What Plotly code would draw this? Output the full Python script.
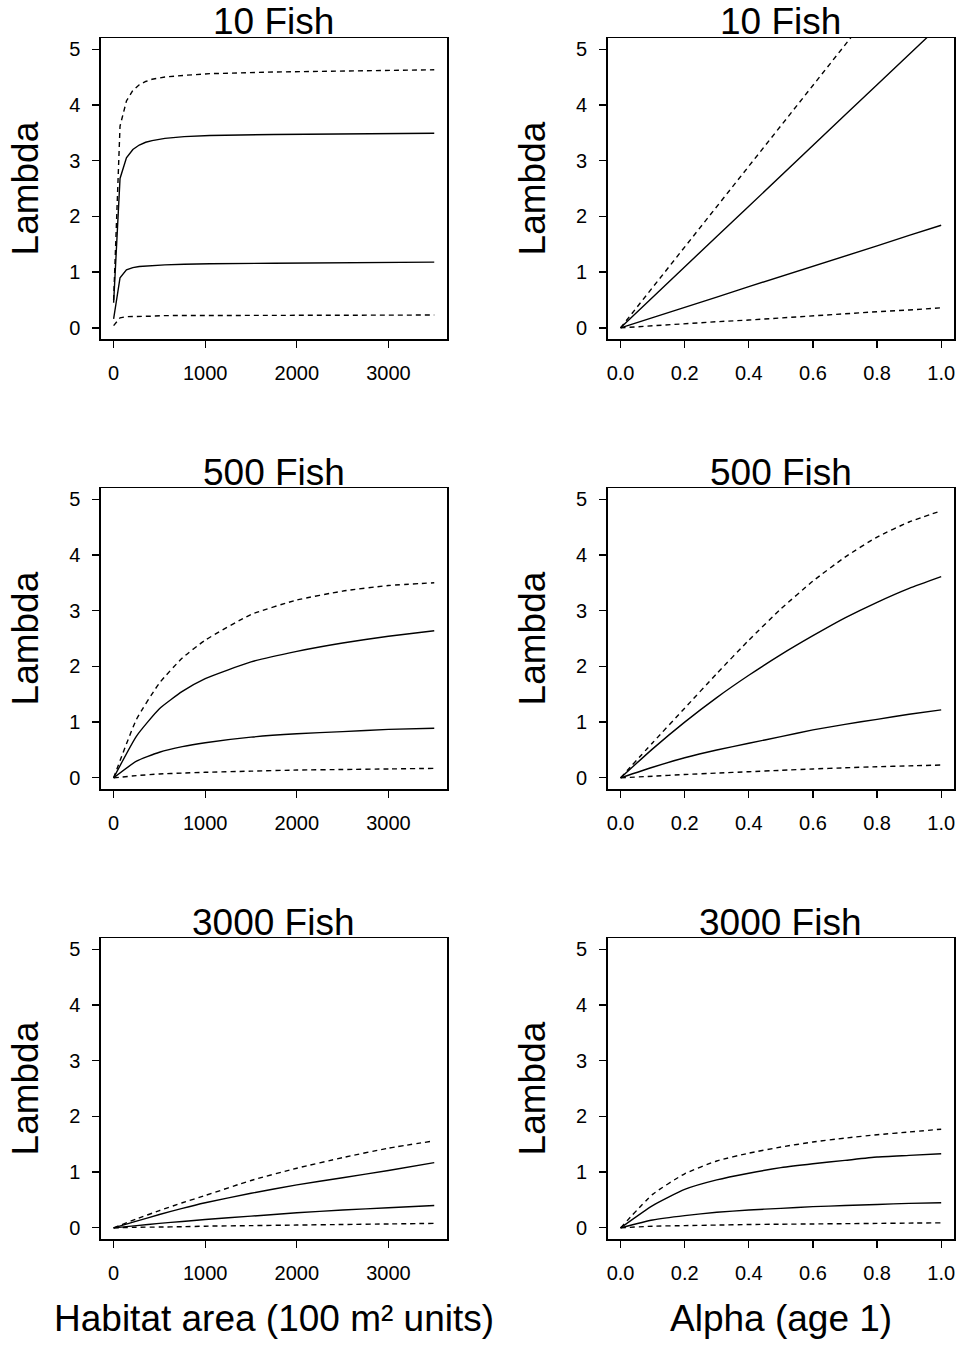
import plotly.graph_objects as go

W, H = 962, 1348

# ---------------- data ----------------
fish_titles = ["10 Fish", "500 Fish", "3000 Fish"]

habitat_x10 = [0, 70, 140, 210, 280, 350, 420, 560, 770, 1050, 1750, 2450, 3500]
hab10_upper_dash = [0.5, 3.62, 4.07, 4.26, 4.36, 4.42, 4.46, 4.50, 4.53, 4.56, 4.59, 4.61, 4.63]
hab10_upper_solid = [0.45, 2.68, 3.05, 3.20, 3.28, 3.33, 3.36, 3.40, 3.43, 3.45, 3.47, 3.48, 3.49]
hab10_lower_solid = [0.16, 0.90, 1.04, 1.08, 1.10, 1.11, 1.12, 1.13, 1.14, 1.15, 1.16, 1.17, 1.18]
hab10_lower_dash = [0.04, 0.18, 0.20, 0.20, 0.21, 0.21, 0.21, 0.22, 0.22, 0.22, 0.22, 0.23, 0.23]

habitat_x = [0, 250, 500, 750, 1000, 1500, 2000, 2500, 3000, 3500]
hab500_upper_dash = [0, 1.05, 1.70, 2.15, 2.47, 2.93, 3.19, 3.35, 3.45, 3.50]
hab500_upper_solid = [0, 0.75, 1.24, 1.55, 1.78, 2.08, 2.27, 2.42, 2.54, 2.64]
hab500_lower_solid = [0, 0.30, 0.46, 0.56, 0.63, 0.73, 0.79, 0.83, 0.87, 0.89]
hab500_lower_dash = [0, 0.04, 0.07, 0.085, 0.10, 0.12, 0.14, 0.15, 0.16, 0.17]

hab3000_upper_dash = [0, 0.16, 0.31, 0.45, 0.58, 0.85, 1.07, 1.26, 1.43, 1.56]
hab3000_upper_solid = [0, 0.12, 0.24, 0.35, 0.45, 0.62, 0.77, 0.90, 1.03, 1.17]
hab3000_lower_solid = [0, 0.04, 0.08, 0.115, 0.15, 0.21, 0.27, 0.32, 0.36, 0.40]
hab3000_lower_dash = [0, 0.01, 0.015, 0.02, 0.03, 0.04, 0.05, 0.06, 0.07, 0.08]

alpha_x = [0, 0.1, 0.2, 0.3, 0.4, 0.5, 0.6, 0.7, 0.8, 0.9, 1.0]
alp10_upper_dash = [0, 0.725, 1.45, 2.18, 2.90, 3.63, 4.35, 5.08, 5.80, 6.53, 7.25]
alp10_upper_solid = [0, 0.55, 1.09, 1.64, 2.18, 2.73, 3.27, 3.82, 4.36, 4.91, 5.45]
alp10_lower_solid = [0, 0.18, 0.37, 0.55, 0.74, 0.92, 1.10, 1.29, 1.47, 1.66, 1.84]
alp10_lower_dash = [0, 0.04, 0.07, 0.11, 0.14, 0.18, 0.22, 0.25, 0.29, 0.32, 0.36]

alp500_upper_dash = [0, 0.63, 1.25, 1.87, 2.47, 3.03, 3.53, 3.96, 4.32, 4.59, 4.79]
alp500_upper_solid = [0, 0.52, 1.00, 1.44, 1.84, 2.21, 2.55, 2.87, 3.15, 3.40, 3.61]
alp500_lower_solid = [0, 0.19, 0.36, 0.50, 0.62, 0.74, 0.86, 0.96, 1.05, 1.14, 1.22]
alp500_lower_dash = [0, 0.03, 0.06, 0.085, 0.11, 0.135, 0.16, 0.18, 0.20, 0.215, 0.23]

alp3000_upper_dash = [0, 0.60, 0.97, 1.20, 1.34, 1.45, 1.54, 1.61, 1.67, 1.72, 1.77]
alp3000_upper_solid = [0, 0.40, 0.69, 0.86, 0.98, 1.08, 1.15, 1.21, 1.27, 1.30, 1.33]
alp3000_lower_solid = [0, 0.14, 0.22, 0.28, 0.32, 0.35, 0.38, 0.40, 0.42, 0.44, 0.45]
alp3000_lower_dash = [0, 0.03, 0.04, 0.05, 0.06, 0.065, 0.07, 0.075, 0.08, 0.085, 0.09]

habitat_ticks = [0, 1000, 2000, 3000]
alpha_ticks = [0, 0.2, 0.4, 0.6, 0.8, 1.0]
alpha_ticklabels = ["0.0", "0.2", "0.4", "0.6", "0.8", "1.0"]
lambda_ticks = [0, 1, 2, 3, 4, 5]

x_title_left = "Habitat area (100 m² units)"
x_title_right = "Alpha (age 1)"
y_title = "Lambda"

# ---------------- layout geometry (pixels) ----------------
col_px = [(100, 447), (608, 955)]
row_px = [(38, 339), (488, 789), (938, 1239)]

FONT = "Liberation Sans, Arial, Helvetica, sans-serif"
BIG = 37

panels = [
    (0, 0, habitat_x10, [hab10_upper_dash, hab10_upper_solid, hab10_lower_solid, hab10_lower_dash], "linear"),
    (0, 1, alpha_x, [alp10_upper_dash, alp10_upper_solid, alp10_lower_solid, alp10_lower_dash], "linear"),
    (1, 0, habitat_x, [hab500_upper_dash, hab500_upper_solid, hab500_lower_solid, hab500_lower_dash], "spline"),
    (1, 1, alpha_x, [alp500_upper_dash, alp500_upper_solid, alp500_lower_solid, alp500_lower_dash], "spline"),
    (2, 0, habitat_x, [hab3000_upper_dash, hab3000_upper_solid, hab3000_lower_solid, hab3000_lower_dash], "spline"),
    (2, 1, alpha_x, [alp3000_upper_dash, alp3000_upper_solid, alp3000_lower_solid, alp3000_lower_dash], "spline"),
]
styles = ["5px,4px", "solid", "solid", "5px,4px"]

fig = go.Figure()
layout = dict(
    width=W, height=H,
    margin=dict(l=0, r=0, t=0, b=0),
    paper_bgcolor="white", plot_bgcolor="white",
    showlegend=False,
    font=dict(family=FONT, color="black"),
)
annotations = []

for i, (r, c, xs, series, shape) in enumerate(panels):
    n = i + 1
    xa = "x" if n == 1 else f"x{n}"
    ya = "y" if n == 1 else f"y{n}"
    for ys, dash in zip(series, styles):
        line = dict(color="black", width=1.4, dash=dash, shape=shape)
        if shape == "spline":
            line["smoothing"] = 0.5
        fig.add_trace(go.Scatter(
            x=xs, y=ys, mode="lines", xaxis=xa, yaxis=ya,
            line=line, hoverinfo="skip",
        ))
    x0, x1 = col_px[c]
    y0, y1 = row_px[r]
    common = dict(
        showline=True, linecolor="black", linewidth=1.5, mirror=True,
        ticks="outside", ticklen=7, tickwidth=1.3, tickcolor="black",
        showgrid=False, zeroline=False,
        tickfont=dict(family=FONT, size=20, color="black"),
    )
    if c == 0:
        xax = dict(domain=[x0 / W, x1 / W], range=[-140, 3640],
                   tickmode="array", tickvals=habitat_ticks,
                   ticktext=[str(t) for t in habitat_ticks], **common)
    else:
        xax = dict(domain=[x0 / W, x1 / W], range=[-0.04, 1.04],
                   tickmode="array", tickvals=alpha_ticks,
                   ticktext=alpha_ticklabels, **common)
    xax["anchor"] = ya
    xax["ticklabelstandoff"] = 8
    yax = dict(domain=[1 - y1 / H, 1 - y0 / H], range=[-0.2, 5.2],
               tickmode="array", tickvals=lambda_ticks,
               ticktext=[str(t) for t in lambda_ticks], anchor=xa,
               ticklabelstandoff=8, **common)
    layout["xaxis" if n == 1 else f"xaxis{n}"] = xax
    layout["yaxis" if n == 1 else f"yaxis{n}"] = yax

    annotations.append(dict(
        text=fish_titles[r], xref="paper", yref="paper",
        x=(x0 + x1) / 2 / W, y=1 - (y0 - 16) / H,
        xanchor="center", yanchor="middle", showarrow=False,
        font=dict(family=FONT, size=BIG, color="black"),
    ))
    annotations.append(dict(
        text=y_title, xref="paper", yref="paper",
        x=(x0 - 75) / W, y=1 - ((y0 + y1) / 2) / H,
        xanchor="center", yanchor="middle", textangle=-90, showarrow=False,
        font=dict(family=FONT, size=BIG, color="black"),
    ))

for c, txt in enumerate([x_title_left, x_title_right]):
    x0, x1 = col_px[c]
    annotations.append(dict(
        text=txt, xref="paper", yref="paper",
        x=(x0 + x1) / 2 / W, y=1 - 1318 / H,
        xanchor="center", yanchor="middle", showarrow=False,
        font=dict(family=FONT, size=BIG, color="black"),
    ))

layout["annotations"] = annotations
fig.update_layout(**layout)
fig.write_html("out.html",
               config={"displayModeBar": False, "staticPlot": True},
               post_script="document.body.style.margin='0';document.body.style.padding='0';document.body.style.overflow='hidden';")
